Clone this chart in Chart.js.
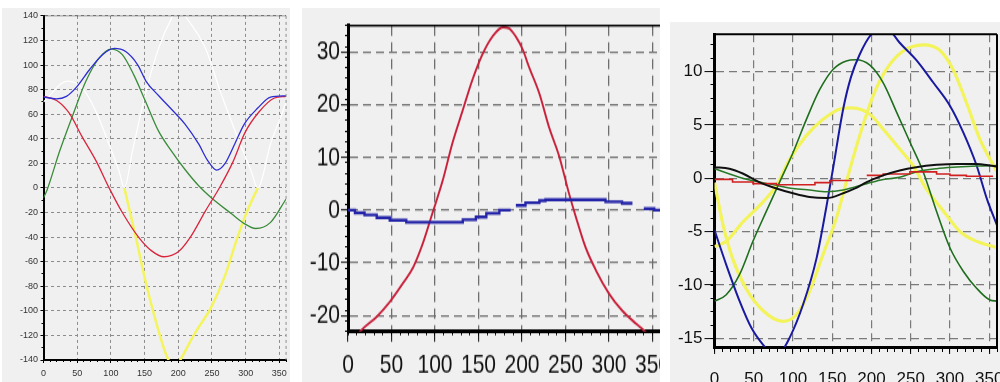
<!DOCTYPE html>
<html>
<head>
<meta charset="utf-8">
<script src="https://cdn.jsdelivr.net/npm/chart.js@4.4.0/dist/chart.umd.min.js"></script>
<style>
  html, body { margin: 0; padding: 0; background: #fff; }
  body { width: 1000px; height: 382px; position: relative; overflow: hidden; }
  .panel { position: absolute; overflow: hidden; background: #f0f0f0; }
  #p1 { left: 2px; top: 8px; width: 290px; height: 374px; }
  #p2 { left: 290px; top: 8px; width: 370px; height: 374px; background: linear-gradient(to right, #fff 12px, #f0f0f0 12px); }
  #p3 { left: 670px; top: 22px; width: 330px; height: 360px; }
  canvas { position: absolute; left: 0; top: 0; }
  #c2 { transform: scaleY(1.28); transform-origin: 0 0; }
</style>
</head>
<body>
<div class="panel" id="p1"><canvas id="c1" width="290" height="374"></canvas></div>
<div class="panel" id="p2"><canvas id="c2" width="386" height="292"></canvas></div>
<div class="panel" id="p3"><canvas id="c3" width="360" height="380"></canvas></div>
<script>
// ---- panel 1 ----
const p1BlueX = [0, 19, 34, 49, 68, 88, 105, 122, 140, 152, 171, 190, 210, 230, 244, 257, 269, 284, 298, 318, 337, 360];
const p1BlueY = [74, 72.5, 74.5, 82, 96, 108.5, 113.5, 111, 100, 87, 75, 64, 52, 36, 22, 14.5, 19.5, 36, 52, 65, 74, 75];
const p1GreenX = [0, 5, 24, 44, 63, 83, 100, 117, 134, 151, 171, 190, 210, 230, 249, 279, 298, 315, 337, 360];
const p1GreenY = [-8, -2, 30, 60, 87, 106, 113, 108.5, 92, 71, 46, 30, 15, 2, -8, -21, -29, -33, -28, -9];
const p1RedX = [0, 20, 38, 57, 78, 97, 117, 141, 160, 179, 200, 218, 240, 262, 281, 299, 320, 342, 360];
const p1RedY = [74.5, 71, 61, 42, 22, 0.5, -20, -40, -51, -56, -52, -40, -19, 1, 21, 45, 62, 73, 74.5];
const p1YellowX = [120, 137, 151, 166, 183, 195, 204, 225, 249, 269, 288, 303, 318];
const p1YellowY = [0, -40, -75, -107, -137, -147, -139, -118, -97, -72, -40, -18, 0];
const p1WhiteX = [0, 36, 58, 78, 97, 112, 120, 132, 151, 171, 190, 200, 210, 240, 264, 288, 308, 318, 337, 357, 360];
const p1WhiteY = [70, 87, 81, 62, 36, 14, 0, 30, 76, 114, 138, 146, 140, 114, 76, 41, 14, 0, 36, 65, 70];

// ---- panel 2 ----
const p2RedX = [0, 15, 33, 48, 63, 75, 86, 97, 109, 120, 132, 143, 155, 166, 178, 185, 193, 201, 208, 220, 231, 243, 254, 262, 273, 285, 300, 315, 331, 340, 360];
const p2RedY = [-26, -22.8, -20.2, -17.4, -13.9, -10.8, -6.3, -0.6, 5.7, 12.7, 19, 24.7, 29.7, 32.9, 34.7, 34.5, 32.9, 30.4, 27.2, 22.1, 15.8, 10.1, 3.2, -1.3, -7, -11.4, -15.8, -19, -21.5, -22.8, -26];
const p2BlueX = [0, 8, 19, 33, 48, 67, 132, 147, 159, 174, 187, 190, 193, 204, 220, 227, 296, 315, 327, 334, 340, 352, 363];
const p2BlueY = [0, -0.5, -0.9, -1.4, -1.9, -2.3, -1.8, -1.3, -0.6, 0, 0, null, 0.9, 1.4, 1.8, 2.0, 1.6, 1.3, 1.3, null, 0.3, 0, 0];

// ---- panel 3 ----
const p3BlueX = [0, 15, 32, 47, 62, 73, 85, 96, 113, 130, 143, 151, 164, 174, 185, 200, 212, 225, 236, 257, 279, 300, 317, 334, 347, 360];
const p3BlueY = [-4.85, -8.1, -11.5, -14, -15.6, -16.4, -16.2, -14.9, -11.8, -7.5, -2.5, 0.9, 6.5, 9.5, 11.6, 13.5, 14, 13.7, 12.7, 11.1, 8.95, 6.8, 4.3, 1.2, -1.9, -4.4];
const p3GreenX = [0, 15, 32, 49, 66, 83, 100, 117, 134, 151, 168, 180, 198, 215, 232, 249, 266, 283, 300, 317, 334, 351, 360];
const p3GreenY = [-11.5, -10.9, -9, -5.9, -3.1, -0.35, 2.4, 5.5, 8.3, 10.2, 11, 11.1, 10.6, 8.95, 6.2, 3.4, 0.6, -3.1, -6.5, -8.7, -10.3, -11.4, -11.5];
const p3Yellow1X = [0, 11, 23, 40, 62, 87, 104, 121, 138, 155, 170, 185, 202, 219, 240, 266, 287, 304, 321, 338, 351, 360];
const p3Yellow1Y = [-0.4, -4.4, -7.5, -10.3, -12.4, -13.4, -12.8, -10.6, -7.2, -3.8, 0.2, 4, 7.7, 10.2, 11.9, 12.5, 12, 10.2, 7.1, 3.7, 1.8, 0.6];
const p3Yellow2X = [0, 15, 36, 62, 79, 96, 117, 138, 160, 175, 198, 215, 236, 253, 270, 292, 313, 334, 360];
const p3Yellow2Y = [-6.4, -5.9, -4.1, -2.2, -0.66, 1.8, 4, 5.5, 6.5, 6.6, 6, 4.6, 2.75, 1.2, -1, -3.1, -5, -5.9, -6.5];
const p3BlackX = [0, 19, 36, 57, 79, 100, 121, 143, 164, 179, 194, 215, 236, 257, 283, 309, 334, 351, 360];
const p3BlackY = [1.04, 0.9, 0.45, -0.35, -0.95, -1.4, -1.75, -1.85, -1.4, -0.95, -0.35, 0.28, 0.74, 1.04, 1.26, 1.35, 1.35, 1.2, 1.1];
const p3Green2X = [0, 36, 79, 100, 121, 143, 164, 179, 194, 215, 236, 257, 283, 309, 334, 360];
const p3Green2Y = [0.9, 0.0, -0.66, -0.95, -1.1, -1.25, -1.1, -0.8, -0.5, -0.1, 0.1, 0.6, 0.9, 1.05, 1.15, 1.2];
const p3RedX = [0, 23, 49, 79, 128, 147, 174, 180, 194, 215, 249, 283, 300, 321, 355];
const p3RedY = [-0.1, -0.35, -0.5, -0.6, -0.4, -0.2, -0.1, null, 0.28, 0.4, 0.6, 0.4, 0.28, 0.2, 0.2];

const pts = (xs, ys) => xs.map((x, i) => ({ x: x, y: ys[i] }));
const isMajor = (v, step) => Math.abs(v / step - Math.round(v / step)) < 1e-6;
const none = 'rgba(0,0,0,0)';

const framePlugin = {
  id: 'frame',
  afterDatasetsDraw(chart, args, opts) {
    const ctx = chart.ctx, a = chart.chartArea;
    const line = (s, x1, y1, x2, y2) => {
      if (!s) return;
      ctx.save();
      ctx.strokeStyle = s.color;
      ctx.lineWidth = s.width;
      ctx.setLineDash(s.dash || []);
      ctx.beginPath();
      ctx.moveTo(x1, y1);
      ctx.lineTo(x2, y2);
      ctx.stroke();
      ctx.restore();
    };
    line(opts.top, a.left, a.top, a.right, a.top);
    line(opts.right, a.right, a.top, a.right, a.bottom);
  }
};

function line(data, color, width, extra) {
  return Object.assign({ data: data, borderColor: color, borderWidth: width, pointRadius: 0,
    cubicInterpolationMode: 'monotone', fill: false }, extra || {});
}

function makeChart(id, o) {
  const font = { family: 'Liberation Sans, Arial, sans-serif', size: o.fontSize };
  const major = (ax, horiz) => ({
    type: 'linear', axis: horiz ? 'x' : 'y', position: horiz ? 'bottom' : 'left', weight: 1,
    min: ax.min, max: ax.max,
    afterFit: s => { if (horiz) s.height = ax.size; else s.width = ax.size; },
    ticks: { stepSize: ax.major, includeBounds: false, autoSkip: false, maxRotation: 0,
      padding: ax.pad, color: o.textColor, font: font,
      callback: v => (isMajor(v, ax.major) ? String(Math.round(v)) : '') },
    grid: { color: c => (isMajor(c.tick.value, ax.major) && c.tick.value !== 0 || (c.tick.value === 0 && ax.min < 0 && ax.max > 0)) ? o.gridColor : none,
      lineWidth: o.gridWidth, tickLength: ax.tick, tickWidth: 1,
      tickColor: c => (isMajor(c.tick.value, ax.major) ? '#000' : none) },
    border: { color: '#000', width: o.axisWidth, dash: o.dash }
  });
  const minor = (ax, horiz) => ({
    type: 'linear', axis: horiz ? 'x' : 'y', position: horiz ? 'bottom' : 'left', weight: 0,
    min: ax.min, max: ax.max,
    afterFit: s => { if (horiz) s.height = 0; else s.width = 0; },
    ticks: { stepSize: ax.minor, includeBounds: false, autoSkip: false, display: false },
    grid: { drawOnChartArea: false, tickLength: ax.minorTick, tickColor: '#000', tickWidth: 1 },
    border: { display: false }
  });
  return new Chart(document.getElementById(id), {
    type: 'line',
    data: { datasets: o.datasets },
    options: {
      responsive: false, animation: false, devicePixelRatio: 1,
      layout: { padding: o.padding },
      plugins: { legend: { display: false }, tooltip: { enabled: false }, frame: o.frame },
      scales: { x: major(o.x, true), y: major(o.y, false), x2: minor(o.x, true), y2: minor(o.y, false) }
    },
    plugins: [framePlugin]
  });
}

makeChart('c1', {
  padding: { left: 0, top: 6.6, right: 3.5, bottom: 0 },
  x: { min: 0, max: 360, major: 50, minor: 10, size: 22, tick: 3, minorTick: 2, pad: 5 },
  y: { min: -140, max: 140, major: 20, minor: 10, size: 41.5, tick: 3, minorTick: 2, pad: 2.5 },
  fontSize: 9, textColor: '#333', gridColor: '#8c8c8c', gridWidth: 1, dash: [3, 3], axisWidth: 2,
  frame: { top: { color: '#444', width: 1, dash: [1, 1] }, right: { color: '#8c8c8c', width: 1, dash: [3, 3] } },
  datasets: [
    line(pts(p1BlueX, p1BlueY), '#2e2ed2', 1.3),
    line(pts(p1RedX, p1RedY), '#d8263c', 1.3),
    line(pts(p1GreenX, p1GreenY), '#3a8c3a', 1.3),
    line(pts(p1YellowX, p1YellowY), '#f4f45e', 2.5),
    line(pts(p1WhiteX, p1WhiteY), '#ffffff', 1.2)
  ]
});

makeChart('c2', {
  padding: { left: 0, top: 13.7, right: 14, bottom: 0 },
  x: { min: 0, max: 360, major: 50, minor: 10, size: 39.3, tick: 8, minorTick: 3, pad: 5.6 },
  y: { min: -23, max: 35, major: 10, minor: 2, size: 58, tick: 7, minorTick: 3, pad: 1 },
  fontSize: 21, textColor: '#111', gridColor: '#6e6e6e', gridWidth: 1.3, dash: [8, 5], axisWidth: 3,
  frame: { top: { color: '#000', width: 1.6 } },
  datasets: [
    line(pts(p2BlueX, p2BlueY), '#2424a8', 2.4, { stepped: true }),
    line(pts(p2RedX, p2RedY), '#c8203a', 1.9)
  ]
});

makeChart('c3', {
  padding: { left: 0, top: 10.3, right: 33, bottom: 0 },
  x: { min: 0, max: 360, major: 50, minor: 10, size: 55, tick: 7, minorTick: 5, pad: 15 },
  y: { min: -15.8, max: 13.5, major: 5, minor: 1.25, size: 44.5, tick: 10, minorTick: 4, pad: 2 },
  fontSize: 17, textColor: '#111', gridColor: '#7a7a7a', gridWidth: 1.2, dash: [8, 5], axisWidth: 3,
  frame: { top: { color: '#000', width: 2 }, right: { color: '#000', width: 2 } },
  datasets: [
    line(pts(p3BlackX, p3BlackY), '#111111', 2),
    line(pts(p3RedX, p3RedY), '#d02020', 1.6, { stepped: true }),
    line(pts(p3Green2X, p3Green2Y), '#2a7a2a', 1.5),
    line(pts(p3BlueX, p3BlueY), '#1a1aa0', 2),
    line(pts(p3GreenX, p3GreenY), '#1e6e1e', 1.6),
    line(pts(p3Yellow1X, p3Yellow1Y), '#f3f35c', 3.2),
    line(pts(p3Yellow2X, p3Yellow2Y), '#f3f35c', 3.2)
  ]
});
</script>
</body>
</html>
